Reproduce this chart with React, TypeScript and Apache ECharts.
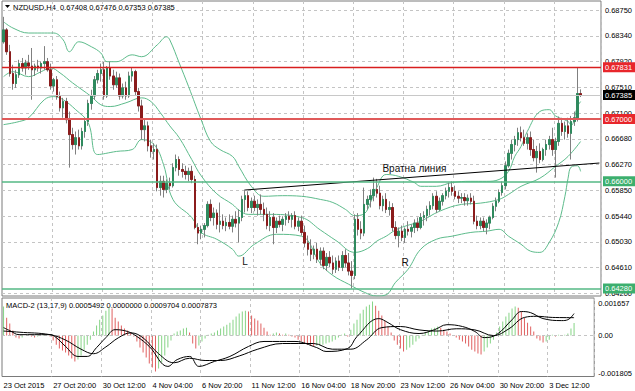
import { useEffect, useRef } from "react";
import * as echarts from "echarts";

// ---------------- data ----------------
const symbolName = "NZDUSD,H4";
const timeLabels = [
  "23 Oct 2015", "27 Oct 20:00", "30 Oct 12:00", "4 Nov 04:00", "6 Nov 20:00", "11 Nov 12:00",
  "16 Nov 04:00", "18 Nov 20:00", "23 Nov 12:00", "26 Nov 04:00", "30 Nov 20:00", "3 Dec 12:00",
];
const priceTickLabels = [
  "0.64200", "0.64610", "0.65030", "0.65440", "0.65850", "0.66270",
  "0.66680", "0.67100", "0.67510", "0.67920", "0.68340", "0.68750",
];
const macdTickLabels = ["-0.001805", "0.00", "0.001657"];
const macdHeaderValues = ["0.0005492", "0.0000000", "0.0009704", "0.0007873"];

// [open, high, low, close]
const ohlc: number[][] = [
  [0.6824,0.6864,0.6821,0.6843],[0.6843,0.6846,0.6803,0.6808],[0.6808,0.6819,0.6768,0.6773],[0.6773,0.6787,0.6747,0.6757],
  [0.6757,0.6779,0.6750,0.6771],[0.6771,0.6795,0.6766,0.6789],[0.6789,0.6798,0.6776,0.6782],[0.6782,0.6795,0.6771,0.6790],
  [0.6790,0.6803,0.6779,0.6785],[0.6785,0.6814,0.6731,0.6779],[0.6779,0.6789,0.6769,0.6785],[0.6785,0.6795,0.6776,0.6782],
  [0.6782,0.6792,0.6773,0.6789],[0.6789,0.6817,0.6779,0.6792],[0.6792,0.6798,0.6776,0.6779],[0.6779,0.6789,0.6747,0.6753],
  [0.6753,0.6766,0.6744,0.6763],[0.6763,0.6769,0.6731,0.6736],[0.6736,0.6744,0.6712,0.6718],[0.6718,0.6734,0.6702,0.6728],
  [0.6728,0.6734,0.6693,0.6699],[0.6699,0.6712,0.6622,0.6675],[0.6675,0.6686,0.6651,0.6659],[0.6659,0.6680,0.6643,0.6670],
  [0.6670,0.6683,0.6651,0.6657],[0.6657,0.6686,0.6651,0.6680],[0.6680,0.6702,0.6670,0.6696],[0.6696,0.6731,0.6689,0.6725],
  [0.6725,0.6747,0.6715,0.6737],[0.6737,0.6769,0.6731,0.6763],[0.6763,0.6779,0.6757,0.6773],[0.6773,0.6789,0.6760,0.6779],
  [0.6779,0.6792,0.6731,0.6737],[0.6737,0.6785,0.6734,0.6782],[0.6782,0.6792,0.6763,0.6769],[0.6769,0.6779,0.6747,0.6755],
  [0.6755,0.6776,0.6750,0.6766],[0.6766,0.6773,0.6731,0.6737],[0.6737,0.6757,0.6733,0.6750],[0.6750,0.6760,0.6731,0.6737],
  [0.6737,0.6776,0.6734,0.6769],[0.6769,0.6782,0.6760,0.6776],[0.6776,0.6779,0.6737,0.6744],[0.6744,0.6750,0.6712,0.6721],
  [0.6721,0.6731,0.6667,0.6683],[0.6683,0.6699,0.6664,0.6689],[0.6689,0.6696,0.6648,0.6657],[0.6657,0.6667,0.6638,0.6648],
  [0.6648,0.6661,0.6635,0.6651],[0.6651,0.6659,0.6584,0.6590],[0.6590,0.6609,0.6577,0.6600],[0.6600,0.6609,0.6574,0.6587],
  [0.6587,0.6603,0.6581,0.6597],[0.6597,0.6606,0.6587,0.6593],[0.6593,0.6629,0.6590,0.6622],[0.6622,0.6643,0.6616,0.6635],
  [0.6635,0.6640,0.6609,0.6619],[0.6619,0.6629,0.6606,0.6616],[0.6616,0.6625,0.6603,0.6611],[0.6611,0.6622,0.6600,0.6616],
  [0.6616,0.6625,0.6597,0.6603],[0.6603,0.6609,0.6523,0.6526],[0.6526,0.6533,0.6499,0.6517],[0.6517,0.6529,0.6507,0.6523],
  [0.6523,0.6533,0.6510,0.6529],[0.6529,0.6568,0.6526,0.6563],[0.6563,0.6571,0.6536,0.6542],[0.6542,0.6558,0.6529,0.6549],
  [0.6549,0.6555,0.6523,0.6531],[0.6531,0.6566,0.6518,0.6536],[0.6536,0.6547,0.6523,0.6529],[0.6529,0.6542,0.6520,0.6534],
  [0.6534,0.6547,0.6523,0.6528],[0.6528,0.6545,0.6518,0.6539],[0.6539,0.6552,0.6526,0.6533],[0.6533,0.6555,0.6502,0.6542],
  [0.6542,0.6577,0.6536,0.6571],[0.6571,0.6587,0.6550,0.6577],[0.6577,0.6584,0.6552,0.6558],[0.6558,0.6574,0.6549,0.6568],
  [0.6568,0.6577,0.6552,0.6558],[0.6558,0.6571,0.6545,0.6563],[0.6563,0.6579,0.6547,0.6555],[0.6555,0.6566,0.6536,0.6547],
  [0.6547,0.6558,0.6523,0.6529],[0.6529,0.6552,0.6520,0.6542],[0.6542,0.6549,0.6499,0.6526],[0.6526,0.6542,0.6517,0.6536],
  [0.6536,0.6545,0.6526,0.6531],[0.6531,0.6544,0.6520,0.6539],[0.6539,0.6549,0.6529,0.6544],[0.6544,0.6552,0.6533,0.6539],
  [0.6539,0.6549,0.6526,0.6545],[0.6545,0.6552,0.6523,0.6528],[0.6528,0.6542,0.6520,0.6536],[0.6536,0.6545,0.6513,0.6518],
  [0.6518,0.6529,0.6494,0.6501],[0.6501,0.6513,0.6481,0.6491],[0.6491,0.6507,0.6472,0.6483],[0.6483,0.6497,0.6475,0.6491],
  [0.6491,0.6501,0.6469,0.6475],[0.6475,0.6494,0.6465,0.6488],[0.6488,0.6494,0.6459,0.6465],[0.6465,0.6485,0.6456,0.6478],
  [0.6478,0.6488,0.6462,0.6469],[0.6469,0.6481,0.6451,0.6459],[0.6459,0.6478,0.6453,0.6472],[0.6472,0.6481,0.6456,0.6462],
  [0.6462,0.6488,0.6456,0.6481],[0.6481,0.6491,0.6462,0.6469],[0.6469,0.6485,0.6449,0.6456],[0.6456,0.6472,0.6428,0.6449],
  [0.6449,0.6547,0.6443,0.6539],[0.6539,0.6549,0.6513,0.6523],[0.6523,0.6536,0.6507,0.6517],[0.6517,0.6590,0.6512,0.6563],
  [0.6563,0.6577,0.6555,0.6571],[0.6571,0.6587,0.6558,0.6577],[0.6577,0.6606,0.6568,0.6587],[0.6587,0.6604,0.6574,0.6581],
  [0.6581,0.6593,0.6555,0.6561],[0.6561,0.6577,0.6552,0.6571],[0.6571,0.6581,0.6549,0.6555],[0.6555,0.6568,0.6545,0.6558],
  [0.6558,0.6565,0.6520,0.6526],[0.6526,0.6536,0.6507,0.6513],[0.6513,0.6526,0.6494,0.6520],[0.6520,0.6529,0.6504,0.6510],
  [0.6510,0.6526,0.6501,0.6523],[0.6523,0.6536,0.6513,0.6520],[0.6520,0.6531,0.6510,0.6526],[0.6526,0.6539,0.6517,0.6533],
  [0.6533,0.6542,0.6520,0.6526],[0.6526,0.6549,0.6523,0.6542],[0.6542,0.6552,0.6529,0.6545],[0.6545,0.6561,0.6536,0.6555],
  [0.6555,0.6568,0.6545,0.6561],[0.6561,0.6581,0.6555,0.6576],[0.6576,0.6584,0.6549,0.6555],[0.6555,0.6574,0.6552,0.6568],
  [0.6568,0.6581,0.6561,0.6577],[0.6577,0.6590,0.6571,0.6584],[0.6584,0.6598,0.6574,0.6590],[0.6590,0.6600,0.6577,0.6584],
  [0.6584,0.6593,0.6571,0.6576],[0.6576,0.6584,0.6565,0.6573],[0.6573,0.6581,0.6565,0.6574],[0.6574,0.6581,0.6561,0.6569],
  [0.6569,0.6579,0.6561,0.6573],[0.6573,0.6581,0.6563,0.6568],[0.6568,0.6577,0.6531,0.6536],[0.6536,0.6545,0.6523,0.6529],
  [0.6529,0.6542,0.6523,0.6536],[0.6536,0.6542,0.6520,0.6526],[0.6526,0.6539,0.6515,0.6533],[0.6533,0.6545,0.6523,0.6542],
  [0.6542,0.6565,0.6539,0.6560],[0.6560,0.6574,0.6552,0.6568],[0.6568,0.6587,0.6565,0.6582],[0.6582,0.6600,0.6577,0.6593],
  [0.6593,0.6632,0.6587,0.6625],[0.6625,0.6651,0.6622,0.6645],[0.6645,0.6667,0.6635,0.6659],[0.6659,0.6673,0.6648,0.6667],
  [0.6667,0.6686,0.6657,0.6678],[0.6678,0.6688,0.6664,0.6670],[0.6670,0.6683,0.6657,0.6661],[0.6661,0.6677,0.6651,0.6670],
  [0.6670,0.6680,0.6641,0.6651],[0.6651,0.6667,0.6632,0.6638],[0.6638,0.6657,0.6614,0.6648],[0.6648,0.6661,0.6629,0.6635],
  [0.6635,0.6654,0.6632,0.6651],[0.6651,0.6667,0.6641,0.6659],[0.6659,0.6673,0.6651,0.6667],[0.6667,0.6686,0.6641,0.6651],
  [0.6651,0.6670,0.6606,0.6664],[0.6664,0.6704,0.6657,0.6693],[0.6693,0.6702,0.6673,0.6680],[0.6680,0.6696,0.6667,0.6689],
  [0.6689,0.6702,0.6670,0.6677],[0.6677,0.6705,0.6635,0.6696],[0.6696,0.6712,0.6689,0.6702],[0.6702,0.67831,0.6696,0.67408],
  [0.67408,0.67476,0.67353,0.67385],
];

// MACD-2 histogram, one value per bar
const macdHist = [
  0.00128,0.00079,0.00053,0.00022,-0.00009,-0.00013,-0.00009,0,0.00004,-0.00004,
  -0.00009,-0.00004,0,0.00004,0,-0.00004,-0.00022,-0.0004,-0.00057,-0.00066,
  -0.00075,-0.00088,-0.00101,-0.00114,-0.00106,-0.00088,-0.00062,-0.0004,-0.00018,0.00018,
  0.00044,0.0007,0.00088,0.0011,0.00123,0.00119,0.00079,0.00062,0.00044,0.00031,
  0.00022,0.00013,-0.00004,-0.00026,-0.00053,-0.00075,-0.00097,-0.00123,-0.00141,-0.00158,
  -0.00145,-0.00119,-0.00088,-0.00053,-0.00022,0.00009,0.00018,0.00022,0.00031,0.00035,
  0.00013,-0.00035,-0.00057,-0.00044,-0.00026,-0.00013,0.00004,0.00009,0.00013,0.00022,
  0.00031,0.0004,0.00048,0.00057,0.0007,0.00084,0.00097,0.00106,0.0011,0.00106,
  0.00088,0.00075,0.00066,0.00053,0.00035,0.00018,0.00004,0.00009,0.00013,0.00009,
  0.00004,0.00009,0.00004,-0.00004,-0.00009,-0.00018,-0.00026,-0.00035,-0.0004,-0.00044,
  -0.00048,-0.00044,-0.00044,-0.0004,-0.00035,-0.00031,-0.00026,-0.00018,-0.00009,0.00004,
  0.00009,-0.00004,0.00026,0.00053,0.0007,0.00097,0.00114,0.00128,0.00136,0.0015,
  0.00132,0.0011,0.00088,0.00066,0.0004,0.00013,-0.00022,-0.0004,-0.00057,-0.0007,
  -0.00062,-0.00053,-0.0004,-0.00026,-0.00013,0.00004,0.00013,0.00022,0.00031,0.00035,
  0.0004,0.00035,0.00026,0.00018,0.00009,0,-0.00009,-0.00018,-0.00026,-0.00035,
  -0.00048,-0.00062,-0.0007,-0.00079,-0.00084,-0.0007,-0.00053,-0.00035,-0.00018,0.00013,
  0.0004,0.00062,0.00084,0.00101,0.00119,0.00128,0.00123,0.00106,0.00079,0.00057,
  0.0004,0.00018,-0.00013,-0.00022,-0.00031,-0.00026,-0.00018,0.00004,-0.00004,0.00004,
  0,0.00004,0.00009,0.00031,0.0005492,
];

// MACD main and signal lines: [bar index, value]
const macdLine: number[][] = [
  [0,0.00035],[2,0.00022],[5,0.00004],[15,0.00004],[17,-0.00009],[20,-0.00048],[24,-0.00092],[27,-0.00092],
  [30,-0.00053],[33,-0.00009],[36,0.00026],[40,0.00018],[43,-0.00004],[47,-0.00048],[53,-0.00136],[56,-0.00106],
  [60,-0.00092],[63,-0.00136],[68,-0.00114],[73,-0.00092],[79,-0.00048],[84,-0.00026],[94,-0.00026],[101,-0.00053],
  [104,-0.0007],[111,-0.00057],[114,-0.00004],[121,0.00075],[124,0.00057],[128,0.00026],[134,0.00009],[139,0.00026],
  [143,0.00048],[148,0.0004],[152,0.00018],[155,-0.00009],[159,0.00004],[164,0.0007],[167,0.00106],[170,0.00101],
  [174,0.00075],[180,0.00066],[182,0.0007],[184,0.00097],
];
const signalLine: number[][] = [
  [0,0.0002],[5,0.00015],[15,0.00004],[20,-0.0002],[25,-0.0006],[29,-0.0008],[33,-0.0005],[37,-0.0001],
  [41,0.00012],[45,-0.0001],[50,-0.0008],[55,-0.0012],[60,-0.001],[65,-0.0011],[70,-0.0011],[76,-0.0009],
  [82,-0.0006],[90,-0.00035],[100,-0.00035],[106,-0.0006],[112,-0.0006],[117,-0.0002],[122,0.00035],[128,0.0004],
  [134,0.00025],[140,0.0002],[146,0.0003],[152,0.00025],[158,0.0],[163,0.0003],[168,0.0008],[172,0.00085],
  [177,0.0008],[184,0.00079],
];

// Bollinger bands: [bar index, price]
const bbUpper: number[][] = [
  [0,0.6856],[3,0.6846],[8,0.6838],[12,0.6838],[16,0.6838],[19,0.6827],[21,0.6808],[24,0.6824],[28,0.6816],
  [31,0.6806],[33,0.6792],[36,0.6792],[41,0.6803],[44,0.68],[49,0.6819],[52,0.6832],[53,0.6827],[56,0.679],
  [59,0.6752],[63,0.6699],[66,0.6664],[69,0.6651],[73,0.664],[75,0.6624],[79,0.6592],[83,0.6576],[89,0.6577],
  [95,0.6576],[101,0.6571],[105,0.6566],[109,0.6555],[112,0.6545],[115,0.6548],[117,0.6566],[119,0.659],
  [122,0.6611],[126,0.6608],[131,0.6598],[133,0.6592],[138,0.6592],[143,0.6598],[149,0.66],[154,0.66],
  [158,0.6603],[161,0.6616],[163,0.664],[165,0.6656],[167,0.668],[171,0.6712],[174,0.6715],[176,0.6705],
  [180,0.6696],[181,0.669],[183,0.672],[184,0.6728],
];
const bbMiddle: number[][] = [
  [0,0.6768],[3,0.6776],[8,0.6768],[12,0.6776],[15,0.6782],[18,0.6774],[22,0.6758],[28,0.6736],[31,0.6723],
  [34,0.672],[39,0.6726],[44,0.6734],[47,0.6728],[50,0.671],[53,0.6689],[56,0.667],[60,0.6635],[63,0.6609],
  [68,0.658],[73,0.6563],[75,0.6554],[78,0.6547],[84,0.6547],[95,0.6542],[101,0.6522],[106,0.6505],[112,0.6486],
  [116,0.6492],[119,0.6504],[122,0.6512],[125,0.6522],[128,0.6528],[133,0.6536],[139,0.6552],[146,0.6563],
  [152,0.6565],[158,0.6571],[161,0.6579],[165,0.6592],[171,0.6605],[176,0.6624],[180,0.664],[184,0.6664],
];
const bbLower: number[][] = [
  [0,0.6691],[5,0.6696],[8,0.6702],[13,0.6731],[16,0.6736],[19,0.6731],[23,0.6715],[27,0.6694],[30,0.6643],
  [36,0.6648],[41,0.6651],[44,0.6667],[48,0.6659],[51,0.6627],[54,0.6571],[60,0.6542],[63,0.6518],[68,0.6507],
  [73,0.6491],[75,0.648],[80,0.6499],[87,0.6515],[95,0.6512],[101,0.6468],[105,0.6449],[110,0.6435],[115,0.6422],
  [119,0.6416],[122,0.6418],[125,0.6438],[129,0.6459],[133,0.6491],[138,0.6507],[143,0.6512],[149,0.6518],
  [154,0.652],[158,0.6523],[161,0.6512],[165,0.6499],[168,0.6488],[171,0.6486],[174,0.6502],[177,0.6534],
  [179,0.6576],[180,0.6605],[181,0.6623],[183,0.6625],[184,0.6616],
];

const levelValues = [0.67831, 0.67, 0.66, 0.6428];
const bidPrice = 0.67385;
const necklineEnds: number[][] = [[77, 0.65861], [190, 0.66294]];
const annotationTexts = ["Вратна линия", "L", "R"];
const annotationAnchors: number[][] = [[131, 0.6620], [77, 0.6471], [128, 0.6469]];

// ---------------- styling ----------------
const SLOTS = 191; // bars + right-hand chart shift
const FONT = "'Liberation Sans', Arial, sans-serif";
const FS = 7.5;
const GRID_LINE = "#c4c4c4";
const BAND = "#5dbb8b";
const BULL = "#2f8a5e";
const BEAR = "#8b1c1c";
const WICK = "#808080";
const HIST_UP = "#86d486";
const HIST_DOWN = "#e06060";
const levelColors = ["#d81e1e", "#e05a5a", "#54b884", "#54b884"];
const levelTagColors = ["#e8262b", "#e8262b", "#3caf6e", "#3caf6e"];
const levelWidths = [1.3, 2, 1.5, 1.5];

export default function App() {
  const ref = useRef<HTMLDivElement>(null);

  useEffect(() => {
    document.body.style.margin = "0";
    if (!ref.current) return;
    const chart = echarts.init(ref.current, undefined, { renderer: "svg" });

    const cats = Array.from({ length: SLOTS }, (_, i) => String(i));
    const labelEvery = 16;
    const priceMin = 0.642;
    const priceMax = 0.6875;
    const priceStep = (priceMax - priceMin) / (priceTickLabels.length - 1);

    const last = ohlc[ohlc.length - 1];
    const header = `${symbolName}  ${last.map((v) => v.toFixed(5)).join(" ")}`;
    const macdHeader = `MACD-2 (13,17,9) ${macdHeaderValues.join(" ")}`;

    const histData = macdHist.map((v, i) => ({
      value: v,
      itemStyle: { color: i > 0 && v < macdHist[i - 1] ? HIST_DOWN : HIST_UP },
    }));

    const tag = (bg: string) => ({
      show: true,
      position: "end" as const,
      distance: 2,
      color: "#fff",
      backgroundColor: bg,
      padding: [1, 4, 1, 2],
      fontSize: FS,
      fontFamily: FONT,
    });

    const levelData: any[] = [
      {
        yAxis: bidPrice,
        lineStyle: { color: "#c8c8c8", width: 1, type: "solid" },
        label: { ...tag("#000"), formatter: bidPrice.toFixed(5) },
      },
    ];
    levelValues.forEach((v, k) =>
      levelData.push({
        yAxis: v,
        lineStyle: { color: levelColors[k], width: levelWidths[k], type: "solid" },
        label: { ...tag(levelTagColors[k]), formatter: v.toFixed(5) },
      })
    );

    const bandSeries = (data: number[][]) => ({
      type: "line",
      xAxisIndex: 0,
      yAxisIndex: 0,
      data,
      showSymbol: false,
      smooth: 0.4,
      lineStyle: { color: BAND, width: 1 },
      silent: true,
      z: 2,
    });

    const option: any = {
      animation: false,
      backgroundColor: "#fff",
      textStyle: { fontFamily: FONT },
      grid: [
        { left: 2, top: 1, width: 599, height: 295, show: true, borderColor: "#7a7a7a", borderWidth: 1, backgroundColor: "transparent" },
        { left: 2, top: 298, width: 599, height: 78.5, show: true, borderColor: "#7a7a7a", borderWidth: 1, backgroundColor: "transparent" },
        { left: 2, top: 10, width: 599, height: 283.5 },
      ],
      xAxis: [
        {
          type: "category", gridIndex: 0, data: cats, boundaryGap: true,
          axisLine: { show: false }, axisTick: { show: false }, axisLabel: { show: false },
          splitLine: { show: true, interval: (i: number) => i % labelEvery === 0 && i > 0, lineStyle: { color: GRID_LINE, type: [3, 3], width: 1 } },
        },
        {
          type: "category", gridIndex: 1, data: cats, boundaryGap: true,
          axisLine: { show: false }, axisTick: { show: false },
          axisLabel: {
            show: true,
            interval: (i: number) => i % labelEvery === 0,
            formatter: (_v: string, i: number) => timeLabels[i / labelEvery] ?? "",
            align: "left",
            margin: 5,
            color: "#000",
            fontSize: FS,
            fontFamily: FONT,
          },
          splitLine: { show: true, interval: (i: number) => i % labelEvery === 0 && i > 0, lineStyle: { color: GRID_LINE, type: [3, 3], width: 1 } },
        },
        { type: "value", gridIndex: 2, min: 0, max: 1, show: false },
      ],
      yAxis: [
        {
          type: "value", gridIndex: 0, min: 0.6416, max: 0.68894,
          axisLine: { show: false }, axisTick: { show: false }, axisLabel: { show: false }, splitLine: { show: false },
        },
        {
          type: "value", gridIndex: 1, min: -0.001805, max: 0.001657, interval: 0.001805, position: "right",
          axisLine: { show: false }, axisTick: { show: false }, splitLine: { show: false },
          axisLabel: {
            show: true, showMinLabel: true, showMaxLabel: true, margin: 4, color: "#000", fontSize: FS, fontFamily: FONT,
            formatter: (v: number) =>
              v < -0.001 ? `{b|${macdTickLabels[0]}}` : v > 0.001 ? `{t|${macdTickLabels[2]}}` : macdTickLabels[1],
            rich: {
              t: { padding: [10, 0, 0, 0], fontSize: FS, fontFamily: FONT, color: "#000" },
              b: { padding: [0, 0, 7, 0], fontSize: FS, fontFamily: FONT, color: "#000" },
            },
          },
        },
        {
          type: "value", gridIndex: 2, min: priceMin, max: priceMax, interval: priceStep, position: "right",
          axisLine: { show: false }, axisTick: { show: false },
          axisLabel: {
            show: true, showMinLabel: true, showMaxLabel: true, margin: 4, color: "#000", fontSize: FS, fontFamily: FONT,
            formatter: (v: number) => priceTickLabels[Math.round((v - priceMin) / priceStep)] ?? "",
          },
          splitLine: { show: true, lineStyle: { color: GRID_LINE, type: [3, 3], width: 1 } },
        },
      ],
      series: [
        { type: "line", xAxisIndex: 2, yAxisIndex: 2, data: [], silent: true },
        bandSeries(bbUpper),
        {
          ...bandSeries(bbMiddle),
          markLine: {
            silent: true, symbol: ["none", "none"], animation: false, precision: 6,
            label: { show: false },
            lineStyle: { color: "#000", width: 1, type: "solid" },
            data: [[{ coord: necklineEnds[0] }, { coord: necklineEnds[1] }]],
          },
        },
        bandSeries(bbLower),
        {
          type: "candlestick", name: "wick", xAxisIndex: 0, yAxisIndex: 0, barWidth: 2, silent: true, z: 3,
          data: ohlc.map(([o, h, l, c]) => [o, c, l, h]),
          itemStyle: { color: "rgba(0,0,0,0)", color0: "rgba(0,0,0,0)", borderColor: WICK, borderColor0: WICK, borderWidth: 1 },
          markLine: { silent: true, symbol: ["none", "none"], animation: false, precision: 6, data: levelData },
        },
        {
          type: "candlestick", name: "body", xAxisIndex: 0, yAxisIndex: 0, barWidth: 2, silent: true, z: 4,
          data: ohlc.map(([o, , , c]) => [o, c, Math.min(o, c), Math.max(o, c)]),
          itemStyle: { color: BULL, color0: BEAR, borderColor: BULL, borderColor0: BEAR, borderWidth: 1 },
          markPoint: {
            silent: true, animation: false,
            data: annotationTexts.map((t, k) => ({
              coord: annotationAnchors[k],
              symbolSize: 0,
              label: { show: true, position: "inside", formatter: t, color: "#111", fontSize: 10, fontFamily: FONT },
            })),
          },
        },
        {
          type: "bar", xAxisIndex: 1, yAxisIndex: 1, barWidth: 1, silent: true, data: histData,
          markLine: {
            silent: true, symbol: ["none", "none"], animation: false, label: { show: false }, precision: 6,
            lineStyle: { color: GRID_LINE, type: [3, 3], width: 1 },
            data: [{ yAxis: 0 }],
          },
        },
        {
          type: "line", xAxisIndex: 1, yAxisIndex: 1, data: macdLine, showSymbol: false, smooth: 0.4, silent: true,
          lineStyle: { color: "#000", width: 1 }, z: 5,
        },
        {
          type: "line", xAxisIndex: 1, yAxisIndex: 1, data: signalLine, showSymbol: false, smooth: 0.4, silent: true,
          lineStyle: { color: "#000", width: 1 }, z: 5,
        },
      ],
      graphic: [
        { type: "polygon", shape: { points: [[5, 5], [10, 5], [7.5, 8]] }, style: { fill: "#000" }, silent: true },
        { type: "text", x: 13, y: 7.5, style: { text: header, fill: "#000", fontSize: FS, fontFamily: FONT, verticalAlign: "middle" }, silent: true },
        { type: "text", x: 6, y: 305, style: { text: macdHeader, fill: "#000", fontSize: FS, fontFamily: FONT, verticalAlign: "middle" }, silent: true },
      ],
    };

    chart.setOption(option);
    return () => chart.dispose();
  }, []);

  return <div ref={ref} style={{ width: 635, height: 391 }} />;
}
